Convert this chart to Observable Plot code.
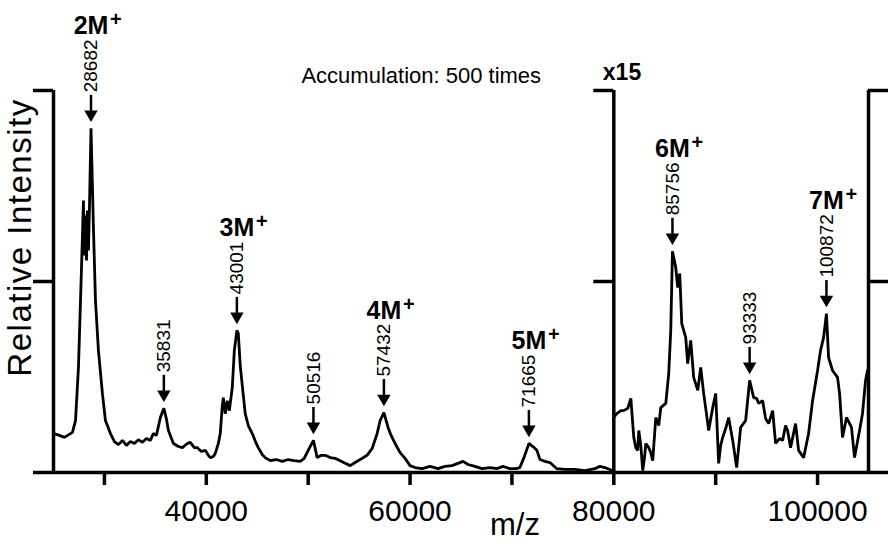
<!DOCTYPE html>
<html><head><meta charset="utf-8">
<script src="https://cdn.jsdelivr.net/npm/d3@7"></script>
<script src="https://cdn.jsdelivr.net/npm/@observablehq/plot@0.6"></script>
<style>body{margin:0;background:#fff}</style>
</head><body><div id="chart"></div>
<script>
// ---- data ----
const mzLeft = [25000,25390,26080,26860,27160,27450,27750,27940,28040,28140,28240,28330,28430,28530,28682,28920,29120,29410,29800,30100,30590,30980,31370,31770,32160,32550,32940,33330,33730,34120,34510,34800,35100,35490,35831,36080,36280,36770,37260,37650,38140,38430,38820,39120,39510,39900,40200,40390,40690,40880,41180,41370,41570,41670,41860,42060,42260,42550,42750,43001,43140,43330,43530,43820,44120,44510,44900,45100,45490,45780,46280,46860,47450,48040,48630,49220,49610,50000,50516,50880,51280,51670,52160,52650,53140,53630,54120,54610,55290,55780,56280,56770,57060,57432,57840,58140,58530,59020,59510,60000,60490,61180,61960,62750,63430,64120,64710,65200,65690,66370,67060,67840,68530,69120,69800,70390,70780,71180,71665,72060,72450,72750,73240,73730,74410,75200,76180,77160,78140,78630,79120,79610,80000];
const intLeft = [10.2,9.9,9.2,10.5,13.6,27.5,53.7,71.2,56.8,67.3,55.5,68.6,58.1,69.4,90.1,64.1,45.0,31.9,20.7,13.6,10.2,8.1,7.3,8.4,7.1,8.1,7.6,8.6,7.9,8.9,8.4,10.2,9.7,14.4,16.8,14.1,11.0,7.6,6.8,6.5,7.6,7.9,6.5,6.5,5.5,5.8,4.5,3.9,4.2,5.0,7.6,10.2,17.5,19.6,15.4,18.8,16.2,22.3,31.9,37.2,36.4,28.0,22.8,15.4,12.3,10.2,7.6,6.5,4.7,3.9,3.1,3.4,2.9,3.4,3.1,2.9,3.7,5.8,8.4,3.9,4.5,4.5,3.9,3.7,3.1,2.4,1.8,2.6,3.7,4.5,6.3,10.2,13.6,15.7,11.8,9.7,7.6,5.2,3.7,1.8,1.3,1.0,1.6,1.0,1.6,1.8,2.4,2.9,2.1,1.6,1.0,1.3,1.0,1.6,1.0,1.0,1.3,3.9,7.6,6.8,5.8,3.4,2.9,2.6,1.0,0.8,0.8,0.5,1.0,1.6,1.3,0.8,0.3];
// right panel, shown magnified x15
const mzRight = [80000,80290,80690,80980,81370,81670,81960,82160,82350,82450,82650,82840,83040,83140,83430,83630,83820,84120,84410,84610,85100,85390,85590,85756,86080,86270,86470,86670,87060,87250,87550,87840,88240,88530,88820,89120,89310,89710,90000,90290,90490,90690,90980,91270,91670,92060,92450,92940,93333,93730,94020,94220,94610,94900,95200,95590,95880,96270,96570,96860,97060,97350,97840,98140,98630,99120,99510,100000,100290,100590,100872,101080,101470,101960,102160,102450,102840,103330,103630,104120,104410,104710,104900];
const intRight = [14.4,15.4,16.2,16.2,16.8,19.4,9.2,6.5,5.8,11.0,7.1,0.5,4.5,7.6,6.5,5.2,3.1,14.4,12.3,17.0,18.1,25.9,37.2,57.9,53.7,48.4,52.1,39.0,35.3,28.5,34.6,24.9,21.5,27.5,20.7,14.9,11.0,17.0,20.7,2.4,7.1,9.2,11.5,14.4,8.4,1.3,11.8,13.6,24.1,19.6,19.4,18.1,18.8,14.1,12.8,16.2,7.6,8.9,8.4,12.3,11.0,6.5,12.8,5.8,3.9,10.2,18.8,26.7,31.9,35.3,41.6,30.1,26.7,24.9,20.7,9.2,14.4,11.8,3.9,11.0,15.4,24.1,26.7];

const peakMz = [28682,35831,43001,50516,57432,71665,85756,93333,100872];
const peakInt = [90.1,16.8,37.2,8.4,15.7,7.6,57.9,24.1,41.6];
const peakLabels = ["28682","35831","43001","50516","57432","71665","85756","93333","100872"];
const ionMz = [28682,43001,57432,71665,85756,100872];
const ionLabels = ["2M","3M","4M","5M","6M","7M"];

const xTicks = [30000,40000,50000,60000,70000,80000,90000,100000];
const xTickLabels = [40000,60000,80000,100000];
const yTicks = [50,100];
const panelBreak = 80000;
const xDomain = [25000,105000];
const yDomain = [0,100];

// ---- layout ----
const W = 889, H = 540, mL = 53, mR = 21, mT = 90, mB = 68;
const pxX = (W - mL - mR) / (xDomain[1] - xDomain[0]);
const pxY = (H - mT - mB) / (yDomain[1] - yDomain[0]);
const FONT = "'Liberation Sans', Arial, Helvetica, sans-serif";
const AX = 3.5;          // axis stroke
const TICK = 20;         // y tick length px
const ARROW_TIP = 6, ARROW_LEN = 27, TEXT_GAP = 3, DIGIT = 10.6, ION_GAP = 5;

const left = mzLeft.map((x, i) => ({x, y: intLeft[i]}));
const right = mzRight.map((x, i) => ({x, y: intRight[i]}));
const peaks = peakMz.map((x, i) => ({x, y: peakInt[i], label: peakLabels[i]}));
const ions = ionMz.map((x, i) => {
  const p = peaks.find(q => q.x === x);
  return {x, y: p.y, name: ionLabels[i], len: p.label.length};
});
const ionY = d => d.y + (ARROW_TIP + ARROW_LEN + TEXT_GAP + d.len * DIGIT + ION_GAP) / pxY;

const chart = Plot.plot({
  width: W, height: H,
  marginLeft: mL, marginRight: mR, marginTop: mT, marginBottom: mB,
  x: {domain: xDomain, axis: null},
  y: {domain: yDomain, axis: null},
  style: {fontFamily: FONT, background: "white", color: "black", overflow: "visible"},
  marks: [
    // frame lines
    Plot.ruleY([0], {x1: xDomain[0] - TICK / pxX, x2: xDomain[1] + TICK / pxX, stroke: "black", strokeWidth: AX}),
    Plot.ruleX([xDomain[0], panelBreak, xDomain[1]], {y1: 0, y2: yDomain[1], stroke: "black", strokeWidth: AX}),
    Plot.ruleY(yTicks, {x1: xDomain[0] - TICK / pxX, x2: xDomain[0], stroke: "black", strokeWidth: AX}),
    Plot.ruleY(yTicks, {x1: panelBreak - TICK / pxX, x2: panelBreak, stroke: "black", strokeWidth: AX}),
    Plot.ruleY(yTicks, {x1: xDomain[1], x2: xDomain[1] + TICK / pxX, stroke: "black", strokeWidth: AX}),
    Plot.axisX({ticks: xTicks, tickSize: 13, strokeWidth: AX, tickPadding: 14,
      tickFormat: d => xTickLabels.includes(d) ? String(d) : "",
      fontSize: 30, label: null}),
    // spectrum
    Plot.line(left, {x: "x", y: "y", stroke: "black", strokeWidth: 2.8, strokeLinejoin: "miter"}),
    Plot.line(right, {x: "x", y: "y", stroke: "black", strokeWidth: 2.8, strokeLinejoin: "miter"}),
    // arrows
    Plot.ruleX(peaks, {x: "x", y1: d => d.y + (ARROW_TIP + 11) / pxY, y2: d => d.y + (ARROW_TIP + ARROW_LEN) / pxY, stroke: "black", strokeWidth: 2.5}),
    Plot.dot(peaks, {x: "x", y: "y", dy: -(ARROW_TIP + 8), symbol: "triangle", rotate: 180, r: 5, fill: "black", stroke: "none"}),
    Plot.text(peaks, {x: "x", y: "y", text: "label", rotate: -90, textAnchor: "start",
      dy: -(ARROW_TIP + ARROW_LEN + TEXT_GAP), fontSize: 19, fill: "black"}),
    // ion labels
    Plot.text(ions, {x: "x", y: ionY, text: "name", lineAnchor: "bottom", fontSize: 25, fontWeight: "bold", fill: "black"}),
    Plot.text(ions, {x: "x", y: ionY, text: () => "+", lineAnchor: "bottom", textAnchor: "start", dx: 19, dy: -8, fontSize: 20, fontWeight: "bold", fill: "black"}),
    // annotations
    Plot.text(["x15"], {x: panelBreak, y: yDomain[1], text: d => d, textAnchor: "start", lineAnchor: "bottom", dx: -11, dy: -11, fontSize: 23, fontWeight: "bold", fill: "black"}),
    Plot.text(["Accumulation: 500 times"], {x: 61100, y: yDomain[1], text: d => d, lineAnchor: "bottom", dy: -8, fontSize: 22, fill: "black"}),
    Plot.text(["m/z"], {frameAnchor: "bottom", text: d => d, textAnchor: "middle", lineAnchor: "bottom", dx: 54, dy: 62, fontSize: 31, fill: "black"}),
    Plot.text(["Relative Intensity"], {frameAnchor: "left", text: d => d, textAnchor: "middle", rotate: -90, dx: -33, dy: -44, fontSize: 33, fill: "black"})
  ]
});
d3.select(chart).selectAll("text")
  .filter(function() { return this.textContent === "Relative Intensity"; })
  .style("letter-spacing", "1.5px");
document.getElementById("chart").appendChild(chart);
</script>
</body></html>
